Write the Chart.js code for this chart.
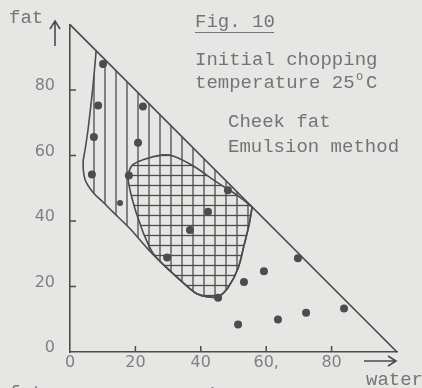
<!DOCTYPE html>
<html>
<head>
<meta charset="utf-8">
<script src="https://cdn.jsdelivr.net/npm/chart.js@4.4.1/dist/chart.umd.min.js"></script>
<style>
    html, body { margin: 0; padding: 0; background: #e6e6e4; }
    #wrap { width: 422px; height: 388px; }
</style>
</head>
<body>
<div id="wrap"><canvas id="fig10" width="422" height="388"></canvas></div>
<script>
// ticks
const xTicks = [0, 20, 40, 60, 80];
const xTickLabels = ['0', '20', '40', '60,', '80'];
const yTicks = [0, 20, 40, 60, 80];
const yTickLabels = ['0', '20', '40', '60', '80'];

// triangle edge water + fat = 100
const hypotenuse = [[0, 100], [100, 0]];

// outline of the vertically hatched area (water, fat)
const hatchedEdge = [
    [8, 92], [7, 81], [5.5, 67.8], [4.6, 61.7], [4, 57.8], [4.6, 52.7], [7, 48.8],
    [10.1, 45.8], [13.1, 42.8], [18.3, 37.7], [24.5, 30.7], [29.7, 25.6], [36.7, 19.3],
    [38.8, 17.8], [41.9, 16.9], [45.3, 16.9], [48.3, 19.6], [51.4, 25.6], [53.2, 32.5],
    [54.7, 38.6], [55.4, 42.5], [55.7, 44.3]
];

// outline of the cross hatched area
const crossEdge = [
    [55.7, 44.3], [55.4, 42.5], [54.7, 38.6], [53.2, 32.5], [51.4, 25.6], [48.3, 19.6],
    [45.3, 16.9], [41.9, 16.9], [38.8, 17.8], [36.7, 19.3], [29.7, 25.6], [25.5, 30.0],
    [23.0, 35.0], [21.2, 39.8], [19.8, 44.0], [18.3, 49.7], [17.8, 53.5], [19.0, 57.0],
    [22.3, 58.7], [28.4, 60.2], [31.5, 59.9], [37.6, 56.9], [45.0, 51.8], [51.1, 47.9],
    [55.7, 44.3]
];

// measured samples
const samplesWater = [10.1, 8.6, 7.3, 6.7, 22.3, 20.8, 18.0, 48.3, 42.2, 36.7, 29.7, 45.3, 53.2, 59.3, 69.7, 83.8, 72.2, 63.6, 51.4];
const samplesFat = [88.0, 75.3, 65.7, 54.2, 75.0, 63.9, 53.9, 49.4, 42.8, 37.3, 28.9, 16.6, 21.4, 24.7, 28.6, 13.3, 12.0, 9.9, 8.4];
const smallWater = [15.3];
const smallFat = [45.5];

const INK = '#4c4c4c';
const TEXT = '#747474';

function toPoints(pairs) {
    return pairs.map(p => ({x: p[0], y: p[1]}));
}

function hatch(vertical, step) {
    const c = document.createElement('canvas');
    c.width = step;
    c.height = step;
    const g = c.getContext('2d');
    g.strokeStyle = INK;
    g.lineWidth = 1.3;
    g.beginPath();
    if (vertical) {
        g.moveTo(step / 2 + 0.5, 0);
        g.lineTo(step / 2 + 0.5, step);
    } else {
        g.moveTo(0, step / 2 + 0.5);
        g.lineTo(step, step / 2 + 0.5);
    }
    g.stroke();
    return g.createPattern(c, 'repeat');
}

// tick marks inside the axes, arrows and typed text
const decorations = {
    id: 'decorations',
    afterDraw(chart) {
        const ctx = chart.ctx;
        const xs = chart.scales.x;
        const ys = chart.scales.y;
        const area = chart.chartArea;
        ctx.save();
        ctx.strokeStyle = INK;
        ctx.lineWidth = 1.5;
        ctx.beginPath();
        yTicks.slice(1).forEach(v => {
            const py = ys.getPixelForValue(v);
            ctx.moveTo(area.left, py);
            ctx.lineTo(area.left + 6, py);
        });
        xTicks.slice(1).forEach(v => {
            const px = xs.getPixelForValue(v);
            ctx.moveTo(px, area.bottom);
            ctx.lineTo(px, area.bottom - 6);
        });
        ctx.stroke();

        // arrows
        ctx.lineWidth = 1.6;
        ctx.beginPath();
        ctx.moveTo(55, 46);
        ctx.lineTo(55, 21);
        ctx.moveTo(50, 29);
        ctx.lineTo(55, 21);
        ctx.lineTo(60, 29);
        ctx.moveTo(area.right - 33, area.bottom + 9);
        ctx.lineTo(area.right - 1, area.bottom + 9);
        ctx.moveTo(area.right - 9, area.bottom + 4);
        ctx.lineTo(area.right - 1, area.bottom + 9);
        ctx.lineTo(area.right - 9, area.bottom + 14);
        ctx.stroke();

        ctx.fillStyle = TEXT;
        ctx.textBaseline = 'alphabetic';
        ctx.font = '19px "Liberation Mono"';
        ctx.fillText('fat', 9, 23);
        ctx.fillText('water', 366, 385);
        ctx.fillText('Fig. 10', 195, 27);
        ctx.fillText('Initial chopping', 195, 65);
        ctx.fillText('temperature 25', 195, 88);
        ctx.fillText('C', 366, 88);
        ctx.font = '12px "Liberation Mono"';
        ctx.fillText('o', 356, 80);
        ctx.font = '19px "Liberation Mono"';
        ctx.fillText('Cheek fat', 228, 127);
        ctx.fillText('Emulsion method', 228, 152);
        // next figure cut by the bottom edge
        ctx.fillText('fat', 9, 398);
        ctx.fillText('Fig. 12', 195, 400);

        ctx.strokeStyle = TEXT;
        ctx.lineWidth = 1.2;
        ctx.beginPath();
        ctx.moveTo(195, 32.5);
        ctx.lineTo(274, 32.5);
        ctx.stroke();
        ctx.restore();
    }
};

const tickFont = {family: '"DejaVu Sans"', size: 16};

new Chart(document.getElementById('fig10').getContext('2d'), {
    type: 'scatter',
    data: {
        datasets: [
            {
                data: samplesWater.map((w, i) => ({x: w, y: samplesFat[i]})),
                pointRadius: 4,
                pointBackgroundColor: INK,
                pointBorderWidth: 0,
                showLine: false,
                order: 0
            },
            {
                data: smallWater.map((w, i) => ({x: w, y: smallFat[i]})),
                pointRadius: 3,
                pointBackgroundColor: INK,
                pointBorderWidth: 0,
                showLine: false,
                order: 0
            },
            {
                data: toPoints(hypotenuse),
                showLine: true,
                borderColor: INK,
                borderWidth: 1.7,
                pointRadius: 0,
                clip: false,
                order: 1
            },
            {
                data: toPoints(crossEdge),
                showLine: true,
                borderColor: INK,
                borderWidth: 1.6,
                tension: 0.35,
                pointRadius: 0,
                fill: 'shape',
                backgroundColor: hatch(false, 10),
                order: 2
            },
            {
                data: toPoints(hatchedEdge),
                showLine: true,
                borderColor: INK,
                borderWidth: 1.6,
                tension: 0.35,
                pointRadius: 0,
                fill: 'shape',
                backgroundColor: hatch(true, 11),
                order: 3
            }
        ]
    },
    options: {
        responsive: false,
        animation: false,
        layout: {padding: {top: 20, right: 25, left: 0, bottom: 0}},
        plugins: {
            legend: {display: false},
            tooltip: {enabled: false}
        },
        scales: {
            x: {
                type: 'linear',
                min: 0,
                max: 100,
                afterBuildTicks: s => { s.ticks = xTicks.map(v => ({value: v})); },
                afterFit: s => { s.height = 36; },
                ticks: {
                    callback: (v, i) => xTickLabels[i],
                    font: tickFont,
                    color: '#808080',
                    padding: 1,
                    maxRotation: 0,
                    autoSkip: false
                },
                grid: {display: true, drawOnChartArea: false, drawTicks: false},
                border: {display: true, color: INK, width: 1.6}
            },
            y: {
                type: 'linear',
                min: 0,
                max: 100,
                afterBuildTicks: s => { s.ticks = yTicks.map(v => ({value: v})); },
                afterFit: s => { s.width = 70; },
                ticks: {
                    callback: (v, i) => yTickLabels[i],
                    font: tickFont,
                    color: '#808080',
                    padding: 15,
                    labelOffset: -4,
                    autoSkip: false
                },
                grid: {display: true, drawOnChartArea: false, drawTicks: false},
                border: {display: true, color: INK, width: 1.6}
            }
        }
    },
    plugins: [decorations]
});
</script>
</body>
</html>
